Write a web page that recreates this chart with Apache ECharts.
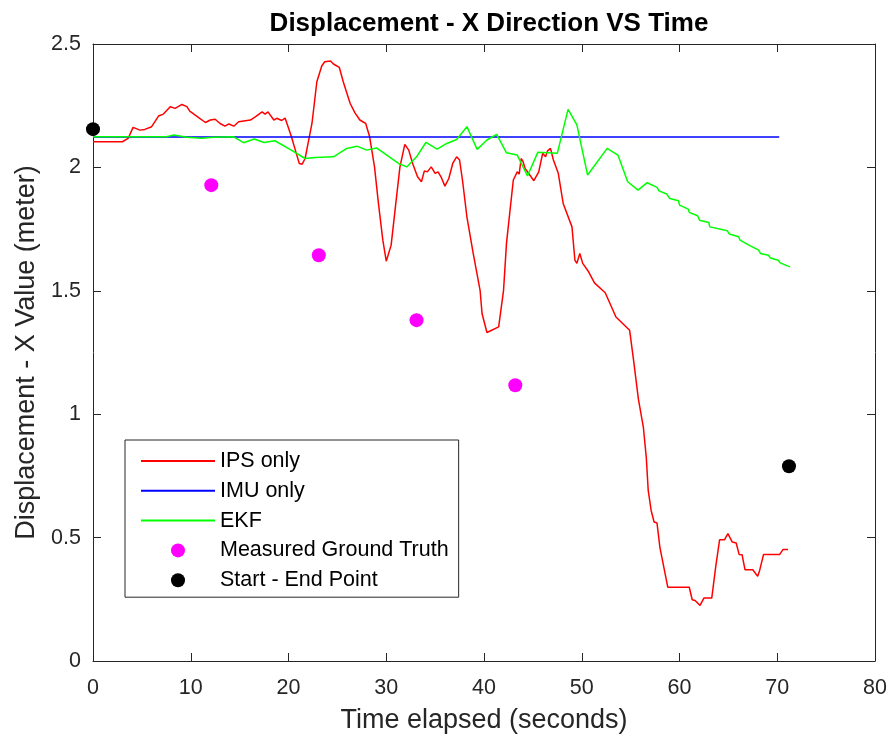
<!DOCTYPE html>
<html>
<head>
<meta charset="utf-8">
<script src="https://cdn.jsdelivr.net/npm/echarts@6/dist/echarts.min.js"></script>
<style>
  html, body { margin: 0; padding: 0; background: #fff; }
  #chart { width: 891px; height: 743px; }
</style>
</head>
<body>
<div id="chart"></div>
<script>
// X displacement over time: IPS, IMU, EKF estimates plus reference points
const ipsTime = [0, 3.0, 3.6, 4.1, 4.8, 5.3, 6.0, 6.7, 7.2, 7.9, 8.4, 9.1, 9.6, 9.9, 10.6, 11.5, 12.0, 12.5, 13.0, 13.5, 13.9, 14.4, 14.9, 16.1, 16.6, 17.3, 17.6, 17.9, 18.5, 18.8, 19.3, 19.65, 20.0, 20.3, 20.7, 21.1, 21.4, 21.7, 22.0, 22.4, 22.9, 23.4, 23.7, 24.3, 24.6, 25.2, 25.6, 26.3, 26.8, 27.3, 27.6, 27.9, 28.3, 28.8, 29.2, 29.65, 30.0, 30.5, 30.9, 31.4, 31.9, 32.3, 32.7, 33.2, 33.6, 33.9, 34.2, 34.6, 34.8, 35.0, 35.3, 35.6, 36.0, 36.4, 36.8, 37.2, 37.5, 37.8, 38.25, 38.9, 39.6, 39.8, 40.3, 41.5, 42.0, 42.3, 42.7, 43.0, 43.4, 43.6, 43.8, 44.0, 44.2, 45.1, 45.6, 46.0, 46.3, 46.5, 46.8, 47.1, 47.6, 48.1, 49.0, 49.3, 49.5, 49.8, 50.1, 50.7, 51.3, 52.4, 53.5, 54.9, 55.3, 55.8, 56.3, 56.6, 56.8, 57.1, 57.4, 57.7, 58.0, 58.2, 58.8, 61.0, 61.3, 61.6, 62.1, 62.5, 63.3, 63.7, 64.1, 64.6, 64.95, 65.4, 65.8, 66.1, 66.4, 66.7, 67.5, 68.0, 68.2, 68.6, 70.25, 70.6, 71.1];
const ipsValue = [2.104, 2.104, 2.118, 2.162, 2.151, 2.154, 2.165, 2.208, 2.216, 2.246, 2.239, 2.255, 2.246, 2.228, 2.208, 2.182, 2.192, 2.195, 2.178, 2.167, 2.176, 2.167, 2.185, 2.192, 2.205, 2.225, 2.216, 2.225, 2.192, 2.199, 2.19, 2.2, 2.16, 2.124, 2.07, 2.016, 2.013, 2.036, 2.097, 2.178, 2.347, 2.411, 2.428, 2.431, 2.419, 2.405, 2.347, 2.26, 2.221, 2.192, 2.185, 2.178, 2.124, 2.002, 1.854, 1.705, 1.62, 1.685, 1.827, 2.002, 2.093, 2.07, 2.016, 1.962, 1.942, 1.986, 1.982, 2.002, 1.996, 1.976, 1.982, 1.962, 1.924, 1.955, 2.016, 2.043, 2.03, 1.948, 1.8, 1.651, 1.502, 1.408, 1.331, 1.354, 1.502, 1.692, 1.84, 1.949, 1.982, 1.973, 2.036, 2.023, 1.996, 1.946, 1.982, 2.057, 2.043, 2.067, 2.077, 2.03, 1.976, 1.854, 1.759, 1.624, 1.611, 1.651, 1.611, 1.577, 1.532, 1.492, 1.394, 1.34, 1.219, 1.06, 0.948, 0.826, 0.691, 0.61, 0.563, 0.559, 0.459, 0.455, 0.299, 0.299, 0.248, 0.245, 0.225, 0.255, 0.255, 0.38, 0.491, 0.491, 0.516, 0.482, 0.478, 0.432, 0.431, 0.37, 0.37, 0.343, 0.367, 0.432, 0.432, 0.452, 0.452];

const imuTime = [0, 70.2];
const imuValue = [2.123, 2.123];

const ekfTime = [0, 7.5, 8.3, 9.6, 11.1, 12.3, 14.4, 15.4, 16.5, 17.5, 18.6, 20.2, 21.7, 22.7, 24.6, 25.96, 27.0, 28.0, 29.0, 30.06, 31.25, 32.1, 33.1, 34.05, 35.2, 36.2, 37.2, 38.25, 39.3, 40.3, 41.3, 42.3, 43.4, 44.45, 45.5, 47.5, 48.6, 49.5, 50.6, 52.6, 53.7, 54.7, 55.75, 56.7, 57.7, 57.9, 58.7, 59.0, 59.9, 60.0, 60.9, 61.0, 61.85, 62.05, 63.0, 63.1, 64.9, 65.1, 66.05, 66.2, 67.1, 67.2, 68.1, 68.3, 69.1, 69.3, 70.1, 70.3, 71.3];
const ekfValue = [2.124, 2.124, 2.131, 2.122, 2.118, 2.122, 2.124, 2.1, 2.115, 2.101, 2.108, 2.072, 2.036, 2.04, 2.043, 2.077, 2.086, 2.07, 2.079, 2.05, 2.016, 2.002, 2.043, 2.101, 2.074, 2.097, 2.113, 2.165, 2.073, 2.111, 2.134, 2.059, 2.05, 1.965, 2.061, 2.057, 2.235, 2.172, 1.969, 2.077, 2.05, 1.942, 1.908, 1.938, 1.919, 1.905, 1.892, 1.874, 1.865, 1.847, 1.831, 1.818, 1.804, 1.786, 1.777, 1.759, 1.743, 1.73, 1.719, 1.705, 1.685, 1.678, 1.665, 1.651, 1.644, 1.633, 1.624, 1.613, 1.597];

const truthTime = [12.1, 23.1, 33.1, 43.2];
const truthValue = [1.928, 1.644, 1.381, 1.117];

const endTime = [0, 71.2];
const endValue = [2.155, 0.789];

const xTicks = [0, 10, 20, 30, 40, 50, 60, 70, 80];
const yTicks = [0, 0.5, 1, 1.5, 2, 2.5];

const zip = (a, b) => a.map((t, i) => [t, b[i]]);

const FONT = 'Liberation Sans, Arial, Helvetica, sans-serif';
const INK = '#262626';

const chart = echarts.init(document.getElementById('chart'), null, { renderer: 'canvas' });

const baseX = {
  type: 'value', min: xTicks[0], max: xTicks[xTicks.length - 1], interval: 10,
  axisLine: { show: true, onZero: false, lineStyle: { color: INK, width: 1 } },
  axisTick: { show: true, inside: true, length: 8, lineStyle: { color: INK } },
  splitLine: { show: false }
};
const baseY = {
  type: 'value', min: yTicks[0], max: yTicks[yTicks.length - 1], interval: 0.5,
  axisLine: { show: true, onZero: false, lineStyle: { color: INK, width: 1 } },
  axisTick: { show: true, inside: true, length: 8, lineStyle: { color: INK } },
  splitLine: { show: false }
};

// line entries in the legend show only the stroke, no marker
const lineEntry = name => ({ name: name, itemStyle: { opacity: 0 } });

chart.setOption({
  animation: false,
  backgroundColor: '#ffffff',
  title: {
    text: 'Displacement - X Direction VS Time',
    left: 484, top: 6, textAlign: 'center',
    textStyle: { fontFamily: FONT, fontSize: 26, fontWeight: 'bold', color: '#000' }
  },
  grid: { left: 93, right: 16, top: 44, bottom: 82, containLabel: false },
  legend: {
    orient: 'vertical',
    left: 125, top: 440,
    padding: [10, 10, 6, 15],
    itemWidth: 74, itemHeight: 14, itemGap: 7.8,
    borderColor: INK, borderWidth: 1,
    textStyle: { fontFamily: FONT, fontSize: 21.5, color: '#000', lineHeight: 22 },
    data: [lineEntry('IPS only'), lineEntry('IMU only'), lineEntry('EKF'), 'Measured Ground Truth', 'Start - End Point']
  },
  xAxis: [
    Object.assign({}, baseX, {
      position: 'bottom',
      axisLabel: { fontFamily: FONT, fontSize: 21.5, color: INK, margin: 16 },
      name: 'Time elapsed (seconds)', nameLocation: 'middle', nameGap: 46,
      nameTextStyle: { fontFamily: FONT, fontSize: 27, color: INK }
    }),
    Object.assign({}, baseX, { position: 'top', axisLabel: { show: false } })
  ],
  yAxis: [
    Object.assign({}, baseY, {
      position: 'left',
      axisLabel: { fontFamily: FONT, fontSize: 21.5, color: INK, margin: 12 },
      name: 'Displacement - X Value (meter)', nameLocation: 'middle', nameGap: 50,
      nameTextStyle: { fontFamily: FONT, fontSize: 27, color: INK }
    }),
    Object.assign({}, baseY, { position: 'right', axisLabel: { show: false } })
  ],
  series: [
    {
      name: 'IPS only', type: 'line', data: zip(ipsTime, ipsValue),
      symbol: 'none', showSymbol: false, lineStyle: { color: '#ff0000', width: 1.5 }, itemStyle: { color: '#ff0000' }
    },
    {
      name: 'IMU only', type: 'line', data: zip(imuTime, imuValue),
      symbol: 'none', showSymbol: false, lineStyle: { color: '#0000ff', width: 1.5 }, itemStyle: { color: '#0000ff' }
    },
    {
      name: 'EKF', type: 'line', data: zip(ekfTime, ekfValue),
      symbol: 'none', showSymbol: false, lineStyle: { color: '#00ff00', width: 1.5 }, itemStyle: { color: '#00ff00' }
    },
    {
      name: 'Measured Ground Truth', type: 'scatter', data: zip(truthTime, truthValue),
      symbol: 'circle', symbolSize: 14, itemStyle: { color: '#ff00ff', opacity: 1 }
    },
    {
      name: 'Start - End Point', type: 'scatter', data: zip(endTime, endValue),
      symbol: 'circle', symbolSize: 14, itemStyle: { color: '#000000', opacity: 1 }
    }
  ]
});
</script>
</body>
</html>
